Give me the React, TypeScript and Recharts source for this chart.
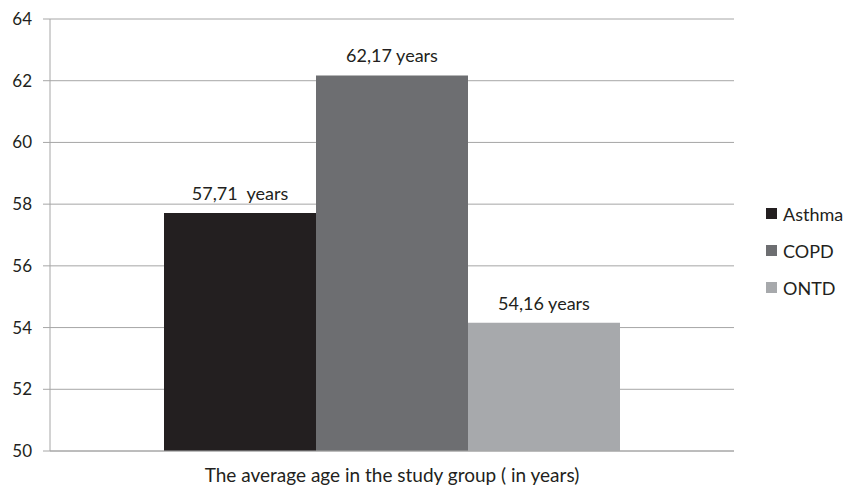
/* Average age per study group, grayscale bar chart. */

import { Bar, BarChart, CartesianGrid, LabelList, Legend, XAxis, YAxis } from "recharts";

const groups = ["Asthma", "COPD", "ONTD"];
const ages = [57.71, 62.17, 54.16];
const ageLabels = ["57,71\u00a0 years", "62,17 years", "54,16 years"];
const colors = ["#231f20", "#6d6e71", "#a7a9ac"];
const yTicks = [50, 52, 54, 56, 58, 60, 62, 64];
const axisTitle = "The average age in the study group ( in years)";

const row: Record<string, number | string> = { name: "" };
groups.forEach((g, i) => {
  row[g] = ages[i];
});
const data = [row];

const font = "Lato, 'Open Sans', sans-serif";
const ink = "#231f20";

function LegendBox({ payload }: any) {
  return (
    <div style={{ fontFamily: font, fontSize: 18, color: ink }}>
      {(payload || []).map((p: any) => (
        <div key={p.value} style={{ display: "flex", alignItems: "center", height: 37 }}>
          <span style={{ width: 11, height: 11, background: p.color, marginRight: 6, display: "inline-block" }} />
          {p.value}
        </div>
      ))}
    </div>
  );
}

export default function App() {
  return (
    <div style={{ width: 845, height: 488, background: "#fff" }}>
      <style>{"body{margin:0}"}</style>
      <BarChart width={845} height={488} data={data} margin={{ top: 19, right: 31, bottom: 0, left: 0 }} barGap={0}>
        <CartesianGrid vertical={false} stroke="#a6a6a6" />
        <XAxis xAxisId="cat" dataKey="name" hide height={0} />
        <XAxis
          xAxisId="edge"
          type="number"
          domain={[0, 1]}
          ticks={[0, 1]}
          tick={false}
          height={37}
          tickSize={7}
          stroke="#a6a6a6"
          label={{ value: axisTitle, position: "insideBottom", offset: 6, fill: ink, fontSize: 19, fontFamily: font }}
        />
        <YAxis
          domain={[50, 64]}
          ticks={yTicks}
          width={50}
          tickSize={7}
          tickMargin={11}
          stroke="#a6a6a6"
          tick={{ fill: ink, fontSize: 17, fontFamily: font }}
        />
        <Legend
          layout="vertical"
          align="right"
          verticalAlign="middle"
          content={<LegendBox />}
          wrapperStyle={{ left: 766, top: 195, width: 80 }}
        />
        {groups.map((g, i) => (
          <Bar key={g} xAxisId="cat" dataKey={g} fill={colors[i]} barSize={152} isAnimationActive={false}>
            <LabelList
              position="top"
              offset={13}
              formatter={() => ageLabels[i]}
              style={{ fill: ink, fontSize: 18, fontFamily: font }}
            />
          </Bar>
        ))}
      </BarChart>
    </div>
  );
}
